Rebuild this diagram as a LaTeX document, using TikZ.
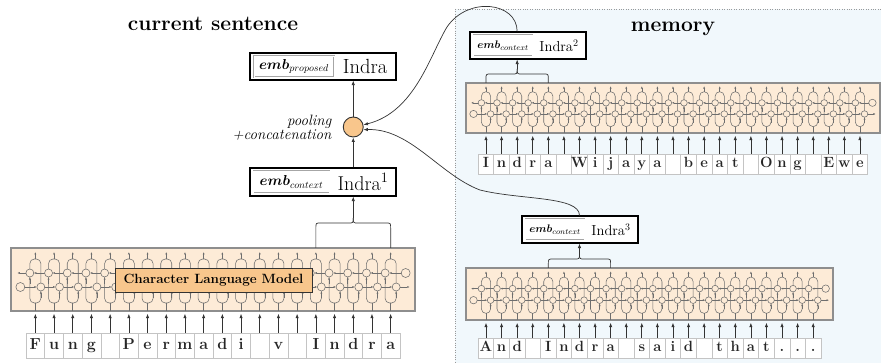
\documentclass[tikz,border=0pt]{standalone}
\usepackage{bm}
\usetikzlibrary{arrows.meta,calc}
\definecolor{lstmfill}{HTML}{FDEBD7}
\definecolor{lstmborder}{HTML}{8E8E8E}
\definecolor{cellcol}{HTML}{6E6E6E}
\definecolor{poolfill}{HTML}{F8C68C}
\definecolor{memfill}{HTML}{F1F8FC}
\definecolor{charline}{HTML}{C4C4C4}
\definecolor{darkline}{HTML}{333333}
\tikzset{
 cellarrow/.tip={Latex[length=2.4pt,width=2pt]},
 mainarrow/.tip={Latex[length=4.5pt,width=3.4pt]},
 lstmbox/.style={draw=lstmborder,line width=2.2pt,fill=lstmfill},
 cell/.style={draw=cellcol,line width=0.55pt},
 conn/.style={draw=darkline,line width=0.7pt},
 charL/.style={draw=charline,fill=white,line width=0.6pt,minimum width=18.7pt,minimum height=25pt,inner sep=0pt,text height=11pt,text depth=3pt,text=black!85,font=\fontsize{16}{16}\selectfont\bfseries},
 charR/.style={draw=charline,fill=white,line width=0.6pt,minimum width=15.58pt,minimum height=20pt,inner sep=0pt,text height=10.5pt,text depth=3pt,text=black!85,font=\fontsize{14.8}{15}\selectfont\bfseries},
 outerbox/.style={draw=black,line width=1.1pt,fill=white,inner sep=0pt},
 innerbox/.style={draw=gray!70,double=white,double distance=0.7pt,line width=0.5pt,inner sep=0pt},
 titlestyle/.style={font=\fontsize{21}{24}\selectfont\bfseries}
}
\newcommand\lstmrow[5]{%
\begin{scope}[shift={(#1,#2)},xscale=#4,yscale=#5]
 \pgfmathsetmacro\lastc{(#3-1)*18.7}
 \pgfmathtruncatemacro\nm{#3-1}
 \pgfmathtruncatemacro\nmm{#3-2}
 \draw[lstmbox] (-24,0) rectangle (\lastc+24,63);
 \foreach \i in {0,...,\nm}{
   \pgfmathsetmacro\cx{\i*18.7}
   \draw[cell,rounded corners=4.5pt] (\cx-5.5,11) rectangle (\cx+5.5,55);
   \draw[cell,-{cellarrow}] (\cx,11) -- (\cx,4);
   \draw[cell] (\cx,55) -- (\cx,63);
   \draw[cell,-{cellarrow}] (\cx-5.5,36) -- (\cx-5.5,29.2);
   \draw[cell,-{cellarrow}] (\cx+5.5,50) -- (\cx+5.5,43.2);
 }
 \foreach \i in {0,...,\nmm}{
   \pgfmathsetmacro\cx{\i*18.7}
   \pgfmathsetmacro\dx{(\i+1)*18.7}
   \draw[cell,-{cellarrow}] (\dx-9.5,25) -- (\cx-1.5,25);
   \draw[cell,-{cellarrow}] (\cx+9.5,39) -- (\dx+1.5,39);
 }
 \draw[cell,-{cellarrow}] (\lastc+10.5,25) -- (\lastc-1.5,25);
 \draw[cell,-{cellarrow}] (-9.5,25) -- (-18,25);
 \draw[cell,-{cellarrow}] (-10.5,39) -- (1.5,39);
 \draw[cell,-{cellarrow}] (\lastc+9.5,39) -- (\lastc+19,39);
 \foreach \i in {0,...,\nm}{
   \pgfmathsetmacro\cx{\i*18.7}
   \draw[cell,fill=lstmfill] (\cx-5.5,25) circle (4);
   \draw[cell,fill=lstmfill] (\cx+5.5,39) circle (4);
 }
 \draw[cell,fill=lstmfill] (-15,39) circle (4.5);
 \draw[cell,fill=lstmfill] (\lastc+15,25) circle (4.5);
\end{scope}}
\newcommand\bracecon[4]{%
 \pgfmathsetmacro\bxm{(#1+#2)/2}
 \draw[conn] (#1,#3) -- (#1,#4+5) .. controls (#1,#4) .. (#1+5,#4) -- (\bxm-5,#4) .. controls (\bxm,#4) .. (\bxm,#4-5);
 \draw[conn] (#2,#3) -- (#2,#4+5) .. controls (#2,#4) .. (#2-5,#4) -- (\bxm+5,#4) .. controls (\bxm,#4) .. (\bxm,#4-5);}
\begin{document}
\begin{tikzpicture}[x=1pt,y=-1pt]
\useasboundingbox (0,0) rectangle (881,363);
% memory background
\draw[dotted,gray!80,fill=memfill] (455,9) rectangle (886,368);
\node[titlestyle] (t1) at (213,24) {current sentence};
\node[titlestyle] (t2) at (673,29) {memory};
% LSTMs
\lstmrow{35.35}{248}{20}{1}{1}
\lstmrow{486}{83}{25}{0.8332}{0.794}
\lstmrow{486}{268}{22}{0.8332}{0.825}
% character LM
\node[draw=darkline,fill=poolfill,line width=0.8pt,minimum width=197pt,minimum height=24pt,inner sep=0pt,font=\fontsize{13.4}{14}\selectfont\bfseries] (clm) at (213.5,280) {Character Language Model};
% characters
\foreach \ch [count=\i from 0] in {F,u,n,g,{},P,e,r,m,a,d,i,{},v,{},I,n,d,r,a} {
  \node[charL] (L\i) at (35.35+\i*18.7,345.5) {\ch};
  \draw[conn,-{mainarrow}] (L\i.north) -- ++(0,-19);
}
\foreach \ch [count=\i from 0] in {I,n,d,r,a,{},W,i,j,a,y,a,{},b,e,a,t,{},O,n,g,{},E,w,e} {
  \node[charR] (A\i) at (486+\i*15.58,164) {\ch};
  \draw[conn,-{mainarrow}] (A\i.north) -- ++(0,-18);
}
\foreach \ch [count=\i from 0] in {A,n,d,{},I,n,d,r,a,{},s,a,i,d,{},t,h,a,t,.,.,.} {
  \node[charR] (B\i) at (486+\i*15.58,348) {\ch};
  \draw[conn,-{mainarrow}] (B\i.north) -- ++(0,-15);
}
% emb boxes
\node[outerbox,minimum width=146pt,minimum height=27pt] (prop) at (323,66.5) {};
\node[innerbox,minimum width=80pt,minimum height=21pt,font=\fontsize{14.5}{15}\selectfont] (prope) at (294,66.5) {$\bm{emb}_{proposed}$};
\node[font=\fontsize{20.5}{21}\selectfont] (propt) at (365,66.5) {Indra};
\node[outerbox,minimum width=146pt,minimum height=28pt] (ctx1) at (323,182) {};
\node[innerbox,minimum width=76pt,minimum height=22pt,font=\fontsize{14.5}{15}\selectfont] (ctx1e) at (291.5,182) {$\bm{emb}_{context}$};
\node[font=\fontsize{20}{21}\selectfont] (ctx1t) at (363,182) {Indra$^1$};
\node[outerbox,minimum width=116pt,minimum height=27pt] (ctx2) at (528,45.5) {};
\node[innerbox,minimum width=59pt,minimum height=21pt,font=\fontsize{11}{12}\selectfont] (ctx2e) at (503,45.5) {$\bm{emb}_{context}$};
\node[font=\fontsize{14.5}{15}\selectfont] (ctx2t) at (559,45.5) {Indra$^2$};
\node[outerbox,minimum width=116pt,minimum height=27pt] (ctx3) at (580,229.5) {};
\node[innerbox,minimum width=59pt,minimum height=21pt,font=\fontsize{11}{12}\selectfont] (ctx3e) at (555,229.5) {$\bm{emb}_{context}$};
\node[font=\fontsize{14.5}{15}\selectfont] (ctx3t) at (611,229.5) {Indra$^3$};
% pool
\node[circle,draw=darkline,line width=0.9pt,fill=poolfill,minimum size=20pt,inner sep=0pt] (pool) at (353.25,127) {};
\node[anchor=east,align=right,font=\fontsize{15}{14}\selectfont\itshape] (poollab) at (335,128) {pooling\\+concatenation};
% braces
\bracecon{315.85}{390.65}{248}{223}
\bracecon{486}{548.32}{83}{74}
\bracecon{548.32}{610.64}{268}{259}
\coordinate (b1) at (353.25,218);
\coordinate (b2) at (517.16,69);
\coordinate (b3) at (579.48,254);
\draw[conn,-{mainarrow}] (b1) -- (ctx1.south -| b1);
\draw[conn,-{mainarrow}] (b2) -- (ctx2.south -| b2);
\draw[conn,-{mainarrow}] (b3) -- (ctx3.south -| b3);
\draw[conn,-{mainarrow}] (ctx1.north -| pool) -- (pool.south);
\draw[conn,-{mainarrow}] (pool.north) -- (prop.south -| pool);
\draw[conn,-{mainarrow}] (ctx2.north -| b2) .. controls (517,2) and (468,-4) .. (447,27) .. controls (430,55) and (415,112) .. (pool.12);
\draw[conn,-{mainarrow}] (ctx3.north -| b3) .. controls (579.5,196) and (520,200) .. (480,190) .. controls (440,175) and (410,128) .. (pool.-15);
\end{tikzpicture}
\end{document}
